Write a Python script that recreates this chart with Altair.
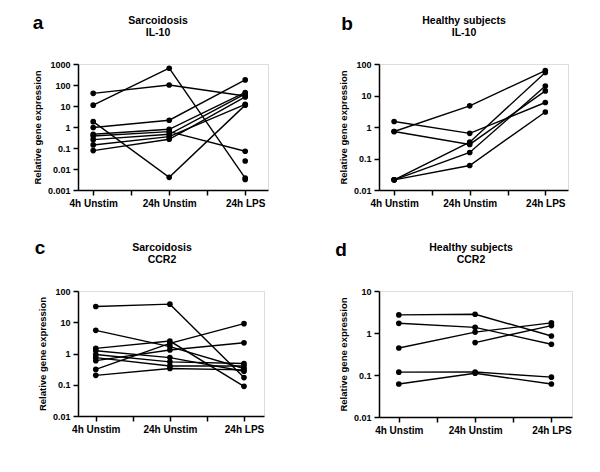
import altair as alt
import pandas as pd

cats = ["4h Unstim", "24h Unstim", "24h LPS"]

# Panel a: Sarcoidosis IL-10
a_4h = [40, 11, 1.8, 0.95, 0.45, 0.37, 0.25, 0.14, 0.075, None, None]
a_24h = [100, 630, 0.004, 2.1, 0.78, 0.6, 0.45, 0.35, 0.26, None, None]
a_lps = [30, 0.0037, 11, 175, 44, 0.07, 38, 12, 27, 0.024, 0.0032]

# Panel b: Healthy subjects IL-10
b_4h = [0.72, 1.5, 0.72, 0.021, 0.021, 0.021]
b_24h = [4.7, 0.63, 0.28, 0.33, 0.06, 0.155]
b_lps = [62, 6.0, 14, 54, 3.0, 20]

# Panel c: Sarcoidosis CCR2
c_4h = [32, 5.5, 0.31, 0.59, 1.46, 1.23, 0.93, 0.74, 0.20]
c_24h = [38, 1.66, 2.1, 1.29, 2.5, 0.74, 0.54, 0.40, 0.33]
c_lps = [0.17, 0.33, 9.0, 2.2, 0.089, 0.27, 0.48, 0.40, 0.30]

# Panel d: Healthy subjects CCR2
d_4h = [2.7, 1.7, 0.44, None, 0.117, 0.061]
d_24h = [2.8, 1.36, 1.05, 0.59, 0.118, 0.11]
d_lps = [0.85, 0.54, 1.74, 1.5, 0.089, 0.061]

a_ticks = [0.001, 0.01, 0.1, 1, 10, 100, 1000]
b_ticks = [0.01, 0.1, 1, 10, 100]
c_ticks = [0.01, 0.1, 1, 10, 100]
d_ticks = [0.01, 0.1, 1, 10]

FONT = "Liberation Sans"


def long_df(v4, v24, vl):
    rows = []
    for i, trio in enumerate(zip(v4, v24, vl)):
        for k, v in enumerate(trio):
            if v is not None:
                rows.append({"subject": i, "cond": k, "value": v})
    return pd.DataFrame(rows)


label_expr = " : ".join(f"datum.value == {i} ? '{c}'" for i, c in enumerate(cats)) + " : ''"


def panel(df, yticks, letter, title_lines, w, h, xdom, letter_pos, title_pos):
    x = alt.X(
        "cond:Q",
        scale=alt.Scale(domain=xdom, nice=False, zero=False),
        axis=alt.Axis(
            values=[0, 0.5, 1, 1.5, 2], labelExpr=label_expr, title=None, grid=False,
            domainColor="black", domainWidth=1.5, tickColor="black", tickWidth=1.5,
            tickSize=5, labelFont=FONT, labelFontWeight="bold", labelFontSize=10,
            labelColor="black", labelPadding=3, labelFlush=False, labelOverlap=False,
        ),
    )
    y = alt.Y(
        "value:Q",
        scale=alt.Scale(type="log", domain=[yticks[0], yticks[-1]], nice=False),
        axis=alt.Axis(
            values=yticks, format="~g", title="Relative gene expression", grid=False,
            domainColor="black", domainWidth=1.5, tickColor="black", tickWidth=1.5,
            tickSize=5, labelFont=FONT, labelFontWeight="bold", labelFontSize=9,
            labelColor="black", labelPadding=3, titleFont=FONT, titleFontWeight="bold",
            titleFontSize=9.5, titleColor="black", titlePadding=5,
        ),
    )
    base = alt.Chart(df)
    lines = base.mark_line(color="black", strokeWidth=1.4).encode(x=x, y=y, detail="subject:N")
    pts = base.mark_circle(color="black", opacity=1, size=32).encode(x=x, y=y)
    one = pd.DataFrame({"k": [0]})
    let = alt.Chart(one).mark_text(
        text=letter, font=FONT, fontSize=19, fontWeight="bold", color="black",
        align="center", baseline="alphabetic",
    ).encode(x=alt.value(letter_pos[0]), y=alt.value(letter_pos[1]))
    tit = alt.Chart(one).mark_text(
        text=title_lines, font=FONT, fontSize=10.5, fontWeight="bold", color="black",
        align="center", baseline="alphabetic", lineHeight=12,
    ).encode(x=alt.value(title_pos[0]), y=alt.value(title_pos[1]))
    return alt.layer(lines, pts, let, tit).properties(width=w, height=h)


pa = panel(long_df(a_4h, a_24h, a_lps), a_ticks, "a", ["Sarcoidosis", "IL-10"],
           190, 126, [-0.2, 2.3], (-40, -35), (80, -40))
pb = panel(long_df(b_4h, b_24h, b_lps), b_ticks, "b", ["Healthy subjects", "IL-10"],
           189, 126, [-0.2, 2.3], (-32, -34), (85, -40))
pc = panel(long_df(c_4h, c_24h, c_lps), c_ticks, "c", ["Sarcoidosis", "CCR2"],
           186, 125, [-0.24, 2.27], (-38, -37), (84, -40))
pd_ = panel(long_df(d_4h, d_24h, d_lps), d_ticks, "d", ["Healthy subjects", "CCR2"],
            193, 126, [-0.26, 2.27], (-38, -35), (92, -40))

chart = alt.concat(
    pa, pb, pc, pd_, columns=2, spacing={"row": 101, "column": 111}, bounds="flush"
).properties(
    padding={"left": 23, "top": 5, "right": 5, "bottom": 5}
).configure_view(strokeWidth=0).configure(background="white")

chart.save("out.html", embed_options={"renderer": "svg", "actions": False})
